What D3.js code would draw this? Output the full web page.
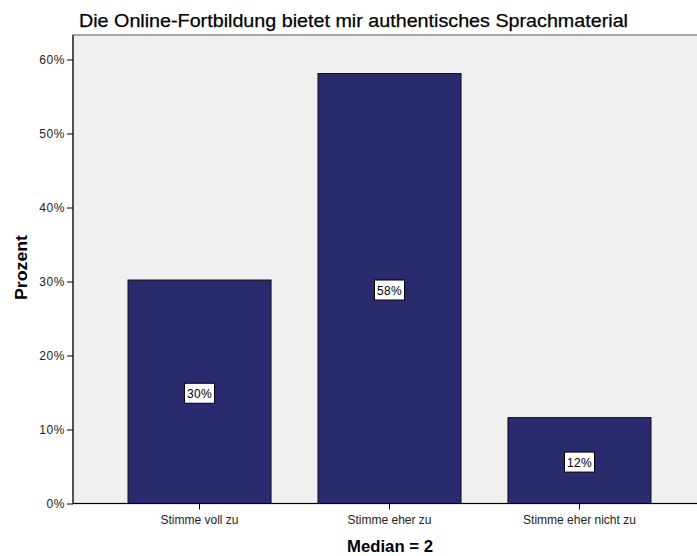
<!DOCTYPE html>
<html><head><meta charset="utf-8">
<script src="https://cdn.jsdelivr.net/npm/d3@7"></script>
<style>body{margin:0;background:#fff}svg{display:block;font-family:"Liberation Sans",Arial,sans-serif}</style>
</head><body><svg id="c" width="697" height="556"></svg>
<script>
const categories = ["Stimme voll zu", "Stimme eher zu", "Stimme eher nicht zu"];
const percents = [30.2, 58.1, 11.6];
const barLabels = ["30%", "58%", "12%"];
const yTicks = [0, 10, 20, 30, 40, 50, 60];
const title = "Die Online-Fortbildung bietet mir authentisches Sprachmaterial";
const yTitle = "Prozent";
const xTitle = "Median = 2";

const svg = d3.select("#c");
const L = 73, T = 35, B = 503.5, R = 706;
const x = d3.scaleBand().domain(categories).range([L, R]).paddingInner(0.247).paddingOuter(0.2895);
const y = d3.scaleLinear().domain([0, 60]).range([B, 59.5]);

svg.append("rect").attr("x", L).attr("y", T).attr("width", R - L).attr("height", B - T)
  .attr("fill", "#f0f0f0").attr("stroke", "#8a8a8a").attr("stroke-width", 1.5);

svg.append("text").attr("x", 79).attr("y", 27).attr("font-size", 19).attr("fill", "#000")
  .attr("stroke", "#000").attr("stroke-width", 0.25)
  .attr("textLength", 549).attr("lengthAdjust", "spacingAndGlyphs").text(title);

svg.selectAll("rect.bar").data(percents).join("rect").attr("class", "bar")
  .attr("x", (d, i) => x(categories[i])).attr("width", x.bandwidth())
  .attr("y", d => y(d)).attr("height", d => B - y(d))
  .attr("fill", "#2a2a6f").attr("stroke", "#111").attr("stroke-width", 1);

const lab = svg.selectAll("g.lab").data(percents).join("g").attr("class", "lab")
  .attr("transform", (d, i) => `translate(${x(categories[i]) + x.bandwidth() / 2},${(y(d) + B) / 2 + 1.5})`);
lab.append("rect").attr("x", -15).attr("y", -10).attr("width", 30).attr("height", 20)
  .attr("fill", "#fff").attr("stroke", "#000").attr("stroke-width", 1);
lab.append("text").attr("text-anchor", "middle").attr("y", 4.5).attr("font-size", 12)
  .attr("letter-spacing", 0.3).text((d, i) => barLabels[i]);

const ya = svg.append("g").attr("transform", `translate(${L},0)`)
  .call(d3.axisLeft(y).tickValues(yTicks).tickFormat(d => d + "%").tickSize(6).tickPadding(2));
ya.select(".domain").attr("d", `M0,${T}V${B}`).attr("stroke", "#000");
ya.selectAll("text").attr("font-size", 12).attr("letter-spacing", 0.6).attr("fill", "#222")
  .style("font-family", "Liberation Sans, Arial, sans-serif");

const xa = svg.append("g").attr("transform", `translate(0,${B})`)
  .call(d3.axisBottom(x).tickSize(6).tickPadding(6));
xa.select(".domain").attr("d", `M${L},0H${R}`).attr("stroke", "#000");
xa.selectAll("text").attr("font-size", 12).attr("fill", "#222")
  .style("font-family", "Liberation Sans, Arial, sans-serif");

svg.append("text").attr("transform", `translate(27,267.5) rotate(-90)`).attr("text-anchor", "middle")
  .attr("font-size", 16.5).attr("font-weight", "bold").attr("textLength", 65).attr("lengthAdjust", "spacingAndGlyphs").text(yTitle);
svg.append("text").attr("x", 390).attr("y", 552).attr("text-anchor", "middle")
  .attr("font-size", 16.5).attr("font-weight", "bold").attr("textLength", 86).attr("lengthAdjust", "spacingAndGlyphs").text(xTitle);
</script></body></html>
